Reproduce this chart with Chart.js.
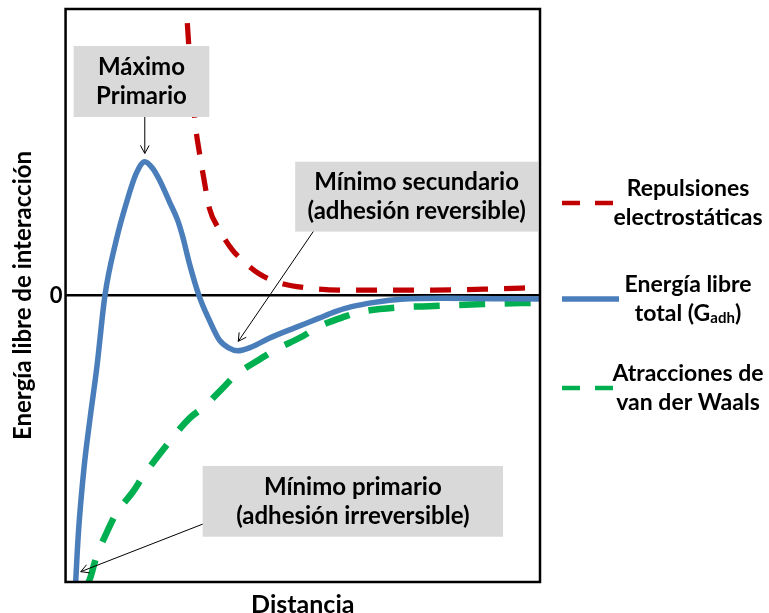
<!DOCTYPE html>
<html>
<head>
<meta charset="utf-8">
<script src="https://cdn.jsdelivr.net/npm/chart.js@4.4.0/dist/chart.umd.min.js"></script>
<style>
  html, body { margin: 0; padding: 0; background: #fff; }
</style>
</head>
<body>
<canvas id="mycanvas" width="769" height="613"></canvas>
<script>
// curvas (distancia en unidades arbitrarias 0-100, energia -10..10)
var totalX = [2.1, 2.7, 3.9, 5.2, 6.6, 8.3, 10.7, 12.8, 14.9, 16.7, 18.3, 19.8, 21.9, 23.6, 24.7, 26.1, 28.2, 30.3, 32.4, 34.5, 36.2, 39.3, 42.8, 48.4, 53.3, 56.7, 60.3, 65.1, 70.7, 80, 90, 100];
var totalY = [-10.1, -8.3, -6.0, -4.24, -2.5, 0, 1.94, 3.22, 4.26, 4.67, 4.45, 4.03, 3.27, 2.64, 2.05, 1.12, -0.04, -0.86, -1.55, -1.84, -1.93, -1.79, -1.5, -1.12, -0.8, -0.57, -0.39, -0.24, -0.13, -0.1, -0.11, -0.12];

var repulsionX = [25.3, 25.5, 25.9, 26.5, 27.5, 28.2, 29.2, 30.3, 32.4, 35.1, 37.2, 40.7, 44.9, 51.2, 58.8, 67.2, 77.6, 88.1, 100];
var repulsionY = [10.8, 10, 8.9, 7.5, 5.77, 5.0, 4.03, 3.05, 2.3, 1.6, 1.24, 0.77, 0.45, 0.26, 0.19, 0.19, 0.19, 0.22, 0.28];

var vdwX = [4.6, 5.2, 6.5, 8.6, 10.7, 14.2, 16.3, 20.5, 26.1, 29.2, 33.1, 35.8, 40.7, 44.1, 49.8, 53.3, 58.8, 62.3, 70.7, 77.6, 88.1, 100];
var vdwY = [-10.1, -9.86, -9.12, -8.3, -7.6, -6.85, -6.32, -5.39, -4.29, -3.88, -3.24, -2.78, -2.25, -1.9, -1.44, -1.09, -0.74, -0.57, -0.41, -0.37, -0.3, -0.25];

var yTicks = [0];
var yTickLabels = ['0'];

var leyendaTextos = [
  ['Repulsiones', 'electrostáticas'],
  ['Energía libre', 'total (G|adh|)'],
  ['Atracciones de', 'van der Waals']
];

var notaTextos = [
  ['Máximo', 'Primario'],
  ['Mínimo secundario', '(adhesión reversible)'],
  ['Mínimo primario', '(adhesión irreversible)']
];

var FUENTE = 'Lato, "Open Sans", sans-serif';
var ROJO = '#c00000', AZUL = '#4a7ebb', VERDE = '#00b050';

function puntos(xs, ys) {
  var out = [];
  for (var i = 0; i < xs.length; i++) out.push({x: xs[i], y: ys[i]});
  return out;
}

// cajas y flechas en coordenadas de datos
var notas = [
  {caja: [1.7, 30.3, 8.71, 6.23], desde: [16.7, 6.23], hasta: [16.7, 4.96]},
  {caja: [48.4, 99.6, 4.67, 2.23], desde: [52.2, 2.23], hasta: [36.4, -1.6]},
  {caja: [28.9, 92.2, -5.95, -8.42], desde: [28.9, -7.98], hasta: [3.2, -9.64]}
];

function flecha(ctx, x1, y1, x2, y2) {
  ctx.beginPath();
  ctx.moveTo(x1, y1);
  ctx.lineTo(x2, y2);
  ctx.stroke();
  var a = Math.atan2(y2 - y1, x2 - x1), L = 9, w = 0.5;
  ctx.beginPath();
  ctx.moveTo(x2 - L * Math.cos(a - w), y2 - L * Math.sin(a - w));
  ctx.lineTo(x2, y2);
  ctx.lineTo(x2 - L * Math.cos(a + w), y2 - L * Math.sin(a + w));
  ctx.stroke();
}

// texto con subindice marcado como a|sub|b
function textoCentrado(ctx, txt, cx, cy, size) {
  var partes = txt.split('|');
  var big = 'bold ' + size + 'px ' + FUENTE, small = 'bold ' + Math.round(size * 0.66) + 'px ' + FUENTE;
  var anchos = partes.map(function(p, i) {
    ctx.font = (i % 2) ? small : big;
    return ctx.measureText(p).width;
  });
  var total = anchos.reduce(function(a, b) { return a + b; }, 0);
  var x = cx - total / 2;
  ctx.textAlign = 'left';
  partes.forEach(function(p, i) {
    ctx.font = (i % 2) ? small : big;
    ctx.textBaseline = (i % 2) ? 'alphabetic' : 'middle';
    ctx.fillText(p, x, (i % 2) ? cy + size * 0.38 : cy);
    x += anchos[i];
  });
}

var extras = {
  id: 'extras',
  afterDatasetsDraw: function(chart) {
    var ctx = chart.ctx, xs = chart.scales.x, ys = chart.scales.y, area = chart.chartArea;
    ctx.save();
    notas.forEach(function(n, k) {
      var x1 = xs.getPixelForValue(n.caja[0]), x2 = xs.getPixelForValue(n.caja[1]);
      var y1 = ys.getPixelForValue(n.caja[2]), y2 = ys.getPixelForValue(n.caja[3]);
      ctx.fillStyle = '#d9d9d9';
      ctx.fillRect(x1, y1, x2 - x1, y2 - y1);
      ctx.fillStyle = '#000';
      var cx = (x1 + x2) / 2, cy = (y1 + y2) / 2;
      textoCentrado(ctx, notaTextos[k][0], cx, cy - 14, 24);
      textoCentrado(ctx, notaTextos[k][1], cx, cy + 15, 24);
      ctx.strokeStyle = '#000';
      ctx.lineWidth = 1;
      flecha(ctx, xs.getPixelForValue(n.desde[0]), ys.getPixelForValue(n.desde[1]),
                  xs.getPixelForValue(n.hasta[0]), ys.getPixelForValue(n.hasta[1]));
    });
    // marco
    ctx.strokeStyle = '#000';
    ctx.lineWidth = 2.5;
    ctx.strokeRect(area.left, area.top, area.right - area.left, area.bottom - area.top);

    // leyenda a la derecha
    var series = chart.data.datasets;
    var filas = [203, 299, 388];
    series.forEach(function(ds, i) {
      var y = filas[i];
      ctx.strokeStyle = ds.borderColor;
      ctx.lineWidth = i == 1 ? 5.5 : 4.5;
      ctx.setLineDash(ds.borderDash ? [18, 15] : []);
      ctx.beginPath();
      ctx.moveTo(area.right + 22, y);
      ctx.lineTo(area.right + 79, y);
      ctx.stroke();
      ctx.setLineDash([]);
      ctx.fillStyle = '#000';
      var txt = leyendaTextos[i];
      textoCentrado(ctx, txt[0], area.right + 148, y - 14, 23);
      textoCentrado(ctx, txt[1], area.right + 148, y + 15, 23);
    });
    ctx.restore();
  }
};

var ctx = document.getElementById('mycanvas');

var chart = new Chart(ctx, {
  type: 'scatter',
  data: {
    datasets: [
      {
        label: 'Repulsiones electrostáticas',
        data: puntos(repulsionX, repulsionY),
        borderColor: ROJO,
        borderWidth: 5.25,
        borderDash: [21, 16],
        showLine: true,
        pointRadius: 0,
        cubicInterpolationMode: 'monotone'
      },
      {
        label: 'Energía libre total (Gadh)',
        data: puntos(totalX, totalY),
        borderColor: AZUL,
        borderWidth: 5.5,
        showLine: true,
        pointRadius: 0,
        cubicInterpolationMode: 'monotone'
      },
      {
        label: 'Atracciones de van der Waals',
        data: puntos(vdwX, vdwY),
        borderColor: VERDE,
        borderWidth: 6.5,
        borderDash: [26, 19.5],
        showLine: true,
        pointRadius: 0,
        cubicInterpolationMode: 'monotone'
      }
    ]
  },
  options: {
    responsive: false,
    animation: false,
    events: [],
    layout: { padding: { top: 9, right: 229, bottom: 0, left: 0 } },
    plugins: { legend: { display: false }, tooltip: { enabled: false } },
    scales: {
      x: {
        min: 0, max: 100,
        border: { display: false },
        grid: { display: false, drawTicks: false },
        ticks: { display: false },
        title: {
          display: true, text: 'Distancia', color: '#000',
          font: { family: FUENTE, size: 25, weight: 'bold', lineHeight: 0.64 },
          padding: { top: 15, bottom: 0 }
        }
      },
      y: {
        min: -10, max: 10,
        afterBuildTicks: function(s) { s.ticks = yTicks.map(function(v) { return {value: v}; }); },
        afterFit: function(s) { s.paddingTop = 0; s.paddingBottom = 0; },
        border: { display: false },
        grid: { drawTicks: false, color: '#000', lineWidth: 2.5 },
        ticks: {
          padding: 3, color: '#000',
          font: { family: FUENTE, size: 22, weight: 'bold' },
          callback: function(v, i) { return yTickLabels[i]; }
        },
        title: {
          display: true, text: 'Energía libre de interacción', color: '#000',
          font: { family: FUENTE, size: 24, weight: 'bold' },
          padding: { top: 9, bottom: 9 }
        }
      }
    }
  },
  plugins: [extras]
});
</script>
</body>
</html>
